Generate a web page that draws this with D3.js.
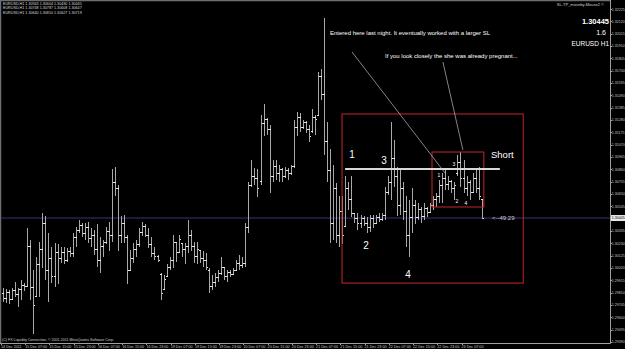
<!DOCTYPE html>
<html>
<head>
<meta charset="utf-8">
<script src="https://cdn.jsdelivr.net/npm/d3@7"></script>
<style>
html, body { margin: 0; padding: 0; background: #000; overflow: hidden; }
svg { display: block; }
</style>
</head>
<body>
<svg width="625" height="349"></svg>
<script>
// EURUSD H1 bars, 14 Dec 23:00 .. 23 Dec 13:00
const open = [1.2980,1.2976,1.2981,1.2975,1.2983,1.2979,1.2984,1.2987,1.2986,1.3020,
  1.2985,1.2978,1.3005,1.3018,1.3040,1.3000,1.3010,1.2995,1.3015,1.3010,
  1.3015,1.3008,1.3016,1.3014,1.3028,1.3034,1.3038,1.3031,1.3036,1.3027,
  1.3030,1.3018,1.3008,1.3020,1.3024,1.3033,1.3030,1.3075,1.3070,1.3030,
  1.3040,1.3028,1.3000,1.3010,1.3018,1.3022,1.3032,1.3037,1.3030,1.3022,
  1.3014,1.3012,1.2996,1.2984,1.2995,1.3002,1.3008,1.3024,1.3015,1.3023,
  1.3018,1.3020,1.3030,1.3020,1.3012,1.3017,1.3010,1.3008,1.3000,1.2986,
  1.2990,1.2994,1.2997,1.3002,1.2995,1.2998,1.2996,1.3000,1.3006,1.3004,
  1.3006,1.3036,1.3072,1.3080,1.3078,1.3076,1.3125,1.3128,1.3120,1.3080,
  1.3088,1.3082,1.3086,1.3080,1.3085,1.3082,1.3088,1.3122,1.3130,1.3122,
  1.3126,1.3120,1.3118,1.3130,1.3132,1.3165,1.3150,1.3110,1.3085,1.3040,
  1.3070,1.3030,1.3050,1.3037,1.3070,1.3060,1.3048,1.3044,1.3040,1.3044,
  1.3040,1.3036,1.3044,1.3040,1.3045,1.3043,1.3047,1.3066,1.3075,1.3095,
  1.3080,1.3055,1.3070,1.3050,1.3030,1.3045,1.3055,1.3045,1.3052,1.3046,
  1.3053,1.3049,1.3055,1.3060,1.3063,1.3072,1.3078,1.3073,1.3076,1.3070,
  1.3082,1.3092,1.3078,1.3070,1.3075,1.3066,1.3078,1.3070,1.3060];

const high = [1.2985,1.2984,1.2983,1.2985,1.2990,1.2985,1.2992,1.2989,1.3036,1.3026,
  1.3000,1.3011,1.3024,1.3049,1.3046,1.3032,1.3020,1.3023,1.3022,1.3020,
  1.3020,1.3019,1.3020,1.3032,1.3037,1.3043,1.3040,1.3040,1.3041,1.3036,
  1.3034,1.3039,1.3028,1.3026,1.3037,1.3041,1.3086,1.3088,1.3073,1.3046,
  1.3047,1.3030,1.3017,1.3023,1.3026,1.3036,1.3041,1.3039,1.3036,1.3028,
  1.3020,1.3013,1.2998,1.2996,1.3005,1.3011,1.3030,1.3023,1.3030,1.3023,
  1.3023,1.3043,1.3034,1.3024,1.3024,1.3017,1.3016,1.3015,1.3002,1.2996,
  1.2998,1.3000,1.3011,1.3002,1.3000,1.3000,1.3002,1.3009,1.3013,1.3011,
  1.3040,1.3075,1.3094,1.3087,1.3086,1.3132,1.3142,1.3130,1.3124,1.3094,
  1.3094,1.3090,1.3087,1.3088,1.3087,1.3090,1.3128,1.3135,1.3134,1.3128,
  1.3127,1.3124,1.3137,1.3132,1.3169,1.3171,1.3215,1.3126,1.3103,1.3090,
  1.3074,1.3063,1.3063,1.3080,1.3075,1.3080,1.3049,1.3049,1.3047,1.3046,
  1.3045,1.3047,1.3047,1.3047,1.3049,1.3049,1.3071,1.3080,1.3126,1.3111,
  1.3088,1.3086,1.3075,1.3063,1.3060,1.3070,1.3060,1.3057,1.3054,1.3057,
  1.3054,1.3057,1.3063,1.3066,1.3077,1.3083,1.3087,1.3080,1.3077,1.3075,
  1.3098,1.3101,1.3094,1.3080,1.3077,1.3083,1.3086,1.3088,1.3060];

const low = [1.2973,1.2972,1.2971,1.2975,1.2977,1.2969,1.2975,1.2982,1.2986,1.2975,
  1.2946,1.2977,1.2977,1.3002,1.2992,1.2973,1.2989,1.2986,1.2988,1.3006,
  1.3005,1.3007,1.3011,1.3011,1.3020,1.3032,1.3028,1.3026,1.3023,1.3020,
  1.3013,1.3003,1.2998,1.3011,1.3022,1.3016,1.3024,1.3063,1.3016,1.3023,
  1.3023,1.2988,1.3000,1.3006,1.3011,1.3020,1.3029,1.3028,1.3019,1.3011,
  1.3009,1.3007,1.2975,1.2983,1.2994,1.3000,1.3002,1.3007,1.3015,1.3011,
  1.3005,1.3015,1.3016,1.3006,1.3005,1.3006,1.3003,1.3000,1.2981,1.2983,
  1.2986,1.2990,1.2996,1.2992,1.2990,1.2994,1.2996,1.2999,1.3000,1.3002,
  1.3003,1.3032,1.3071,1.3073,1.3062,1.3073,1.3114,1.3115,1.3066,1.3075,
  1.3077,1.3075,1.3075,1.3079,1.3077,1.3081,1.3087,1.3114,1.3118,1.3120,
  1.3117,1.3109,1.3117,1.3115,1.3132,1.3145,1.3098,1.3075,1.3023,1.3026,
  1.3023,1.3020,1.3022,1.3037,1.3051,1.3045,1.3040,1.3034,1.3036,1.3038,
  1.3032,1.3033,1.3036,1.3039,1.3041,1.3042,1.3043,1.3064,1.3060,1.3071,
  1.3046,1.3047,1.3043,1.3020,1.3011,1.3032,1.3039,1.3043,1.3040,1.3043,
  1.3045,1.3049,1.3051,1.3054,1.3057,1.3057,1.3068,1.3068,1.3066,1.3060,
  1.3080,1.3071,1.3066,1.3063,1.3060,1.3066,1.3066,1.3060,1.3044];

const close = [1.2976,1.2981,1.2975,1.2983,1.2979,1.2984,1.2987,1.2986,1.3020,1.2985,
  1.2970,1.3005,1.3018,1.3040,1.3000,1.3010,1.2995,1.3015,1.3010,1.3015,
  1.3008,1.3016,1.3014,1.3028,1.3034,1.3038,1.3031,1.3036,1.3027,1.3030,
  1.3018,1.3008,1.3020,1.3024,1.3033,1.3030,1.3075,1.3070,1.3030,1.3040,
  1.3028,1.3000,1.3010,1.3018,1.3022,1.3032,1.3037,1.3030,1.3022,1.3014,
  1.3012,1.3008,1.2980,1.2992,1.3002,1.3008,1.3024,1.3015,1.3026,1.3018,
  1.3020,1.3030,1.3020,1.3012,1.3018,1.3010,1.3008,1.3002,1.2986,1.2990,
  1.2994,1.2997,1.3002,1.2995,1.2998,1.2996,1.3000,1.3006,1.3004,1.3006,
  1.3036,1.3072,1.3080,1.3078,1.3070,1.3125,1.3128,1.3120,1.3080,1.3088,
  1.3082,1.3086,1.3080,1.3085,1.3082,1.3088,1.3122,1.3130,1.3122,1.3126,
  1.3120,1.3114,1.3130,1.3128,1.3165,1.3150,1.3110,1.3085,1.3040,1.3070,
  1.3030,1.3050,1.3030,1.3070,1.3060,1.3048,1.3044,1.3040,1.3044,1.3040,
  1.3036,1.3044,1.3040,1.3045,1.3043,1.3047,1.3066,1.3075,1.3095,1.3080,
  1.3055,1.3070,1.3050,1.3030,1.3045,1.3055,1.3045,1.3052,1.3046,1.3053,
  1.3049,1.3055,1.3060,1.3063,1.3072,1.3078,1.3073,1.3076,1.3070,1.3072,
  1.3092,1.3078,1.3070,1.3075,1.3066,1.3078,1.3070,1.3063,1.30445];

const bid = 1.30445;

const timeTickIdx = [0,8,16,24,32,40,48,56,64,72,80,88,96,104,112,120,128,136,144,152];
const timeTickLabels = ["14 Dec 2011","15 Dec 07:00","15 Dec 15:00","15 Dec 23:00","16 Dec 07:00",
  "16 Dec 15:00","16 Dec 23:00","19 Dec 07:00","19 Dec 15:00","19 Dec 23:00","20 Dec 07:00",
  "20 Dec 15:00","20 Dec 23:00","21 Dec 07:00","21 Dec 15:00","21 Dec 23:00","22 Dec 07:00",
  "22 Dec 15:00","22 Dec 23:00","23 Dec 07:00"];

const priceTicks = [1.32225,1.32120,1.32015,1.31910,1.31805,1.31700,1.31595,1.31490,1.31385,
  1.31280,1.31175,1.31070,1.30965,1.30860,1.30755,1.30650,1.30545,1.30440,1.30335,1.30230,
  1.30125,1.30020,1.29915,1.29810,1.29705,1.29600,1.29495,1.29390];

// drawn objects on the chart, anchored at (bar index, price)
const shortLine = {i0: 112.9, i1: 164.0, price: 1.30862};
const boxes = [
  {i0: 111.9, i1: 171.7, p0: 1.31331, p1: 1.29891},
  {i0: 141.6, i1: 158.7, p0: 1.31007, p1: 1.30539}
];
const arrows = [
  {i0: 115.2, p0: 1.31859, i1: 145.9, p1: 1.30828},
  {i0: 145.2, p0: 1.31774, i1: 151.8, p1: 1.31024}
];

const svg = d3.select("svg");
const W = 625, H = 349;
const plotRight = 610, plotBottom = 343;

const x = d3.scaleLinear().domain([0, 158]).range([3, 481.7]);
const y = d3.scaleLinear().domain([1.29390, 1.32225]).range([341.9, 9.0]);

svg.append("rect").attr("width", W).attr("height", H).attr("fill", "#000");

// frame
svg.append("path")
  .attr("d", `M0.5,${plotBottom}V0.5H${plotRight}`)
  .attr("stroke", "#6e6e6e").attr("stroke-width", 1.5).attr("fill", "none");
svg.append("path")
  .attr("d", `M0,${plotBottom + 0.5}H${plotRight + 0.5}M${plotRight + 0.5},0V${plotBottom + 0.5}`)
  .attr("stroke", "#a0a0a0").attr("stroke-width", 1).attr("fill", "none");

// bid line
svg.append("line")
  .attr("x1", 1).attr("x2", plotRight)
  .attr("y1", y(bid)).attr("y2", y(bid))
  .attr("stroke", "#34347e").attr("stroke-width", 1);

// OHLC bars: stem a bit dimmer, open/close ticks brighter
const barsG = svg.append("g")
  .attr("fill", "none")
  .attr("stroke-width", 1)
  .attr("shape-rendering", "crispEdges");

const bx = i => Math.round(x(i)) + 0.5;

barsG.selectAll("path.stem")
  .data(d3.range(high.length))
  .enter()
    .append("path")
    .attr("class", "stem")
    .attr("stroke", "#a9a9a9")
    .attr("d", i => `M${bx(i)},${y(high[i])}V${y(low[i])}`);

barsG.selectAll("path.tick")
  .data(d3.range(high.length))
  .enter()
    .append("path")
    .attr("class", "tick")
    .attr("stroke", "#e6e6e6")
    .attr("d", i => `M${bx(i) - 1.5},${y(open[i])}H${bx(i)}` +
      `M${bx(i)},${y(close[i])}H${bx(i) + 1.5}`);

// boxes
svg.append("g").selectAll("rect")
  .data(boxes)
  .enter()
    .append("rect")
    .attr("x", d => x(d.i0))
    .attr("y", d => y(d.p0))
    .attr("width", d => x(d.i1) - x(d.i0))
    .attr("height", d => y(d.p1) - y(d.p0))
    .attr("fill", "none")
    .attr("stroke", "#c4252e")
    .attr("stroke-width", 1);

// short level
svg.append("line")
  .attr("x1", x(shortLine.i0)).attr("x2", x(shortLine.i1))
  .attr("y1", y(shortLine.price)).attr("y2", y(shortLine.price))
  .attr("stroke", "#d8d8d8").attr("stroke-width", 2);

// pointer lines
svg.append("g").selectAll("line")
  .data(arrows)
  .enter()
    .append("line")
    .attr("x1", d => x(d.i0)).attr("y1", d => y(d.p0))
    .attr("x2", d => x(d.i1)).attr("y2", d => y(d.p1))
    .attr("stroke", "#bdbdbd").attr("stroke-width", 0.7);

// annotation texts
const sans = "'Liberation Sans', Arial, sans-serif";
const note = (tx, ty, t, size, anchor, fill, weight) => svg.append("text")
  .attr("x", tx).attr("y", ty)
  .attr("font-family", sans)
  .attr("font-size", size)
  .attr("font-weight", weight || "normal")
  .attr("text-anchor", anchor || "start")
  .attr("fill", fill || "#fff")
  .text(t);

note(330, 35, "Entered here last night. It eventually worked with a larger SL", 6);
note(385, 58, "If you look closely the she was already pregnant...", 6);
note(352, 157.5, "1", 10, "middle");
note(384, 163.5, "3", 10, "middle");
note(366, 249, "2", 10, "middle");
note(408, 277.5, "4", 10, "middle");
note(491, 158, "Short", 9.5);
note(439, 177, "1", 5, "middle");
note(454, 166, "3", 5, "middle");
note(457, 203, "2", 5, "middle");
note(466, 205, "4", 5, "middle");
note(492, 220, "<--49:29", 6, "start", "#cfcfcf");

// top-right info
note(604, 6, "SL-TP_moveby-Mouse2 ©", 4, "end", "#d0d0d0");
note(609, 24, "1.30445", 7.5, "end", "#fff", "bold");
note(606, 35, "1.6", 7, "end");
note(609, 46, "EURUSD H1", 6.5, "end");

// top-left info lines
note(3, 4.5, "EURUSD,H1  1.30563 1.30604 1.30430 1.30445", 3.7, "start", "#d8d8d8");
note(3, 8.5, "EURUSD,H1  1.30748 1.30787 1.30608 1.30647", 3.7, "start", "#d8d8d8");
note(3, 13.5, "EURUSD,H1  1.30640 1.30810 1.30627 1.30719", 3.7, "start", "#d8d8d8");

// copyright
note(2, 340.5, "(C) FX Liquidity Connection, © 2001-2011 MetaQuotes Software Corp.", 3.6, "start", "#cfcfcf");

// price axis
const pAxis = svg.append("g");
pAxis.selectAll("line")
  .data(priceTicks)
  .enter()
    .append("line")
    .attr("x1", plotRight).attr("x2", plotRight + 2)
    .attr("y1", d => Math.round(y(d)) + 0.5).attr("y2", d => Math.round(y(d)) + 0.5)
    .attr("stroke", "#a0a0a0");
pAxis.selectAll("text")
  .data(priceTicks)
  .enter()
    .append("text")
    .attr("x", plotRight + 1.8)
    .attr("y", d => y(d) + 1.5)
    .attr("font-family", sans)
    .attr("font-size", 3.6)
    .attr("fill", "#c8c8c8")
    .text(d => d.toFixed(5));

// current price marker
svg.append("rect")
  .attr("x", plotRight + 1).attr("y", y(bid) - 3)
  .attr("width", 14).attr("height", 6)
  .attr("fill", "#e8e8e8");
svg.append("text")
  .attr("x", plotRight + 1.8).attr("y", y(bid) + 1.4)
  .attr("font-family", sans).attr("font-size", 3.6)
  .attr("fill", "#000")
  .text(bid.toFixed(5));

// time axis
const tAxis = svg.append("g");
tAxis.selectAll("line")
  .data(timeTickIdx)
  .enter()
    .append("line")
    .attr("x1", d => Math.round(x(d)) - 1.5).attr("x2", d => Math.round(x(d)) - 1.5)
    .attr("y1", plotBottom).attr("y2", plotBottom + 2)
    .attr("stroke", "#a0a0a0");
tAxis.selectAll("text")
  .data(timeTickIdx)
  .enter()
    .append("text")
    .attr("x", d => x(d) - 2)
    .attr("y", 348)
    .attr("font-family", sans)
    .attr("font-size", 3.7)
    .attr("fill", "#c8c8c8")
    .text((d, i) => timeTickLabels[i]);
</script>
</body>
</html>
